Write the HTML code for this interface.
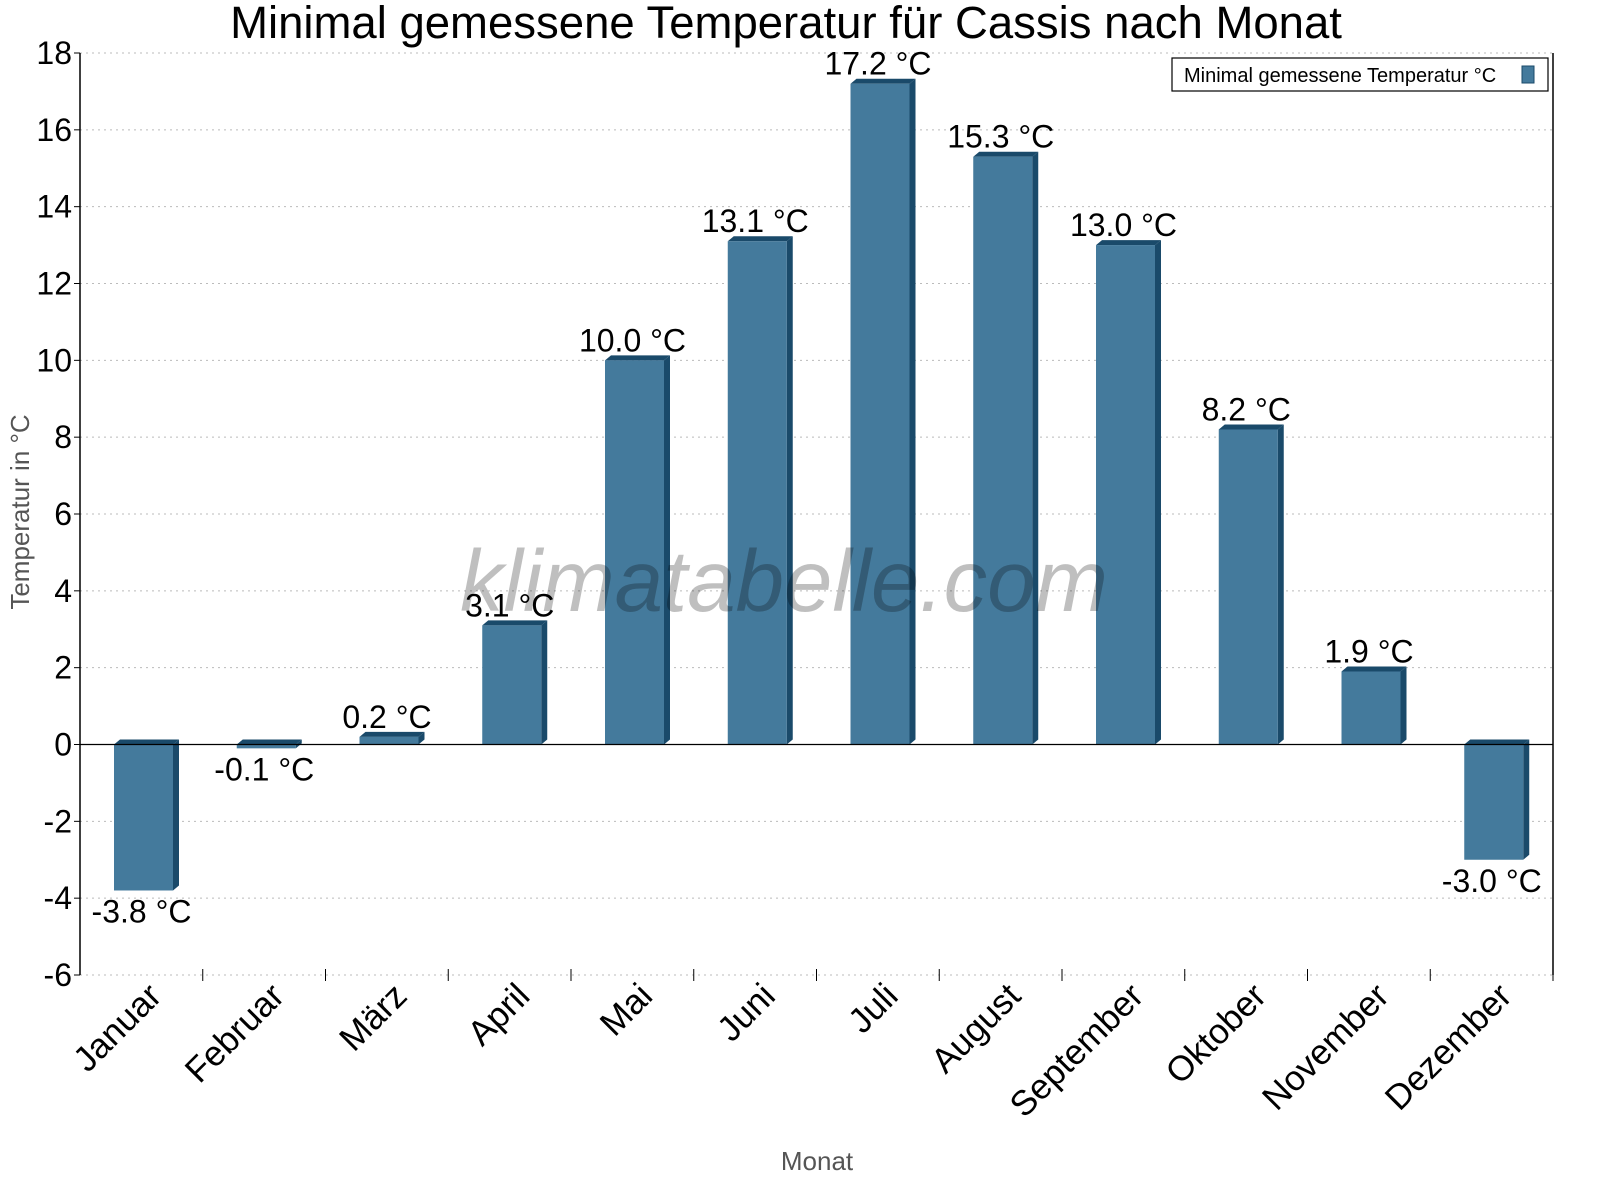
<!DOCTYPE html>
<html><head><meta charset="utf-8"><style>
body{margin:0;background:#fff}
svg{display:block;font-family:"Liberation Sans",Arial,sans-serif}
</style></head><body>
<svg id="chart" width="1600" height="1200" viewBox="0 0 1600 1200">
<text x="786" y="38" font-size="45.5" text-anchor="middle">Minimal gemessene Temperatur für Cassis nach Monat</text>
<g id="grid"></g><g id="bars"></g>
<text x="784" y="611" font-size="87" font-style="italic" text-anchor="middle" fill="#000" fill-opacity="0.25">klimatabelle.com</text>
<g id="axes"></g>
<text transform="translate(29,512) rotate(-90)" font-size="26" fill="#555" text-anchor="middle">Temperatur in °C</text>
<text x="817" y="1170" font-size="26" fill="#555" text-anchor="middle">Monat</text>
<g>
<rect x="1172" y="58" width="376" height="33" fill="#fff" stroke="#000" stroke-width="1.2"/>
<text x="1184" y="82" font-size="20">Minimal gemessene Temperatur °C</text>
<rect x="1522" y="66" width="12" height="17" fill="#447a9c" stroke="#1a4a6a"/>
</g>
</svg>
<script>
const months=["Januar","Februar","März","April","Mai","Juni","Juli","August","September","Oktober","November","Dezember"];
const values=[-3.8,-0.1,0.2,3.1,10.0,13.1,17.2,15.3,13.0,8.2,1.9,-3.0];
const yTicks=[-6,-4,-2,0,2,4,6,8,10,12,14,16,18];
const NS="http://www.w3.org/2000/svg";
const X0=80,X1=1553,Y0=975,Y1=53,ymin=-6,ymax=18;
const cw=(X1-X0)/months.length;
const y=v=>Y0-(v-ymin)/(ymax-ymin)*(Y0-Y1);
const xs=i=>X0+i*cw;
function mk(t,a,p){const e=document.createElementNS(NS,t);for(const k in a)e.setAttribute(k,a[k]);p.appendChild(e);return e;}
const grid=document.getElementById('grid'),bars=document.getElementById('bars'),axes=document.getElementById('axes');
yTicks.forEach(v=>{
 const g=mk('line',{x1:X0,x2:X1,y1:y(v),y2:y(v),stroke:'#bbb','stroke-dasharray':'2,4'},grid);
 
 
 const tk=mk('line',{x1:X0-6,x2:X0,y1:y(v),y2:y(v),stroke:'#000'},axes);
 
 
 const t=mk('text',{x:X0-8,y:y(v)+11,'font-size':32,'text-anchor':'end'},axes);
 
 
 t.textContent=v;
});
const l1=mk('line',{x1:X0,x2:X0,y1:Y1,y2:Y0,stroke:'#000','stroke-width':1.5},axes);


const l2=mk('line',{x1:X1,x2:X1,y1:Y1,y2:Y0,stroke:'#000','stroke-width':1.5},axes);


const z=mk('line',{x1:X0,x2:X1,y1:y(0),y2:y(0),stroke:'#000','stroke-width':1.2},axes);


const D=6;
months.forEach((m,i)=>{
 const v=values[i];
 const left=xs(i)+34,w=59;
 const top=Math.min(y(v),y(0)),bot=Math.max(y(v),y(0));
 const g=mk('g',{},bars);
 
 
 mk('polygon',{points:`${left},${top} ${left+D},${top-5} ${left+w+D},${top-5} ${left+w},${top}`,fill:'#1a4a6a'},g);
 mk('polygon',{points:`${left+w},${top} ${left+w+D},${top-5} ${left+w+D},${bot-5} ${left+w},${bot}`,fill:'#1a4a6a'},g);
 mk('rect',{x:left,y:top,width:w,height:Math.max(bot-top,0.5),fill:'#447a9c'},g);
 const cx=left+w/2-2;
 const ly=v>=0?y(v)-9:y(v)+32;
 const t=mk('text',{x:cx,y:ly,'font-size':32,'text-anchor':'middle'},bars);
 
 
 t.textContent=v.toFixed(1)+' °C';
 const tk=mk('line',{x1:xs(i+1),x2:xs(i+1),y1:Y0-6,y2:Y0+6,stroke:'#000'},axes);
 
 
 const cxm=xs(i)+cw/2+22;
 const xl=mk('text',{x:cxm,y:998,'font-size':35,'text-anchor':'end',transform:`rotate(-45 ${cxm} 998)`},axes);
 
 
 xl.textContent=m;
});
</script>
</body></html>
